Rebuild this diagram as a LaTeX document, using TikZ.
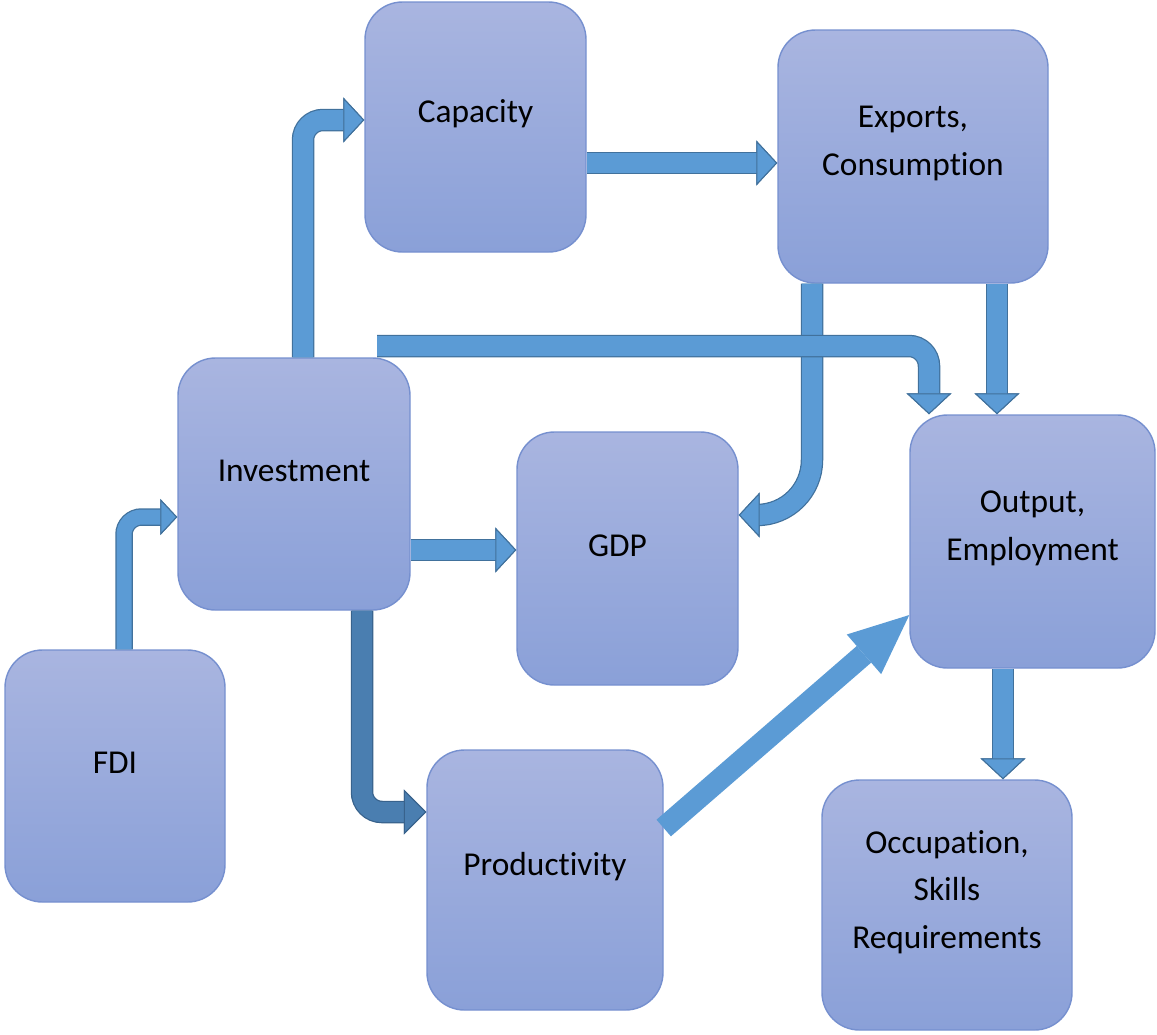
\documentclass[tikz,border=0pt]{standalone}
\usepackage{fontspec}
\setmainfont{Carlito}[Ligatures=NoCommon]
\usetikzlibrary{arrows.meta}
\definecolor{boxtop}{HTML}{A9B5E0}
\definecolor{boxbottom}{HTML}{8AA0D8}
\definecolor{boxedge}{HTML}{7690CF}
\definecolor{arrowfill}{HTML}{5B9BD5}
\definecolor{arrowedge}{HTML}{41719C}
\definecolor{darkfill}{HTML}{4A7EB0}
\definecolor{darkedge}{HTML}{38628C}
\tikzset{
	% ---- boxes
	box/.style={draw=boxedge, line width=0.8pt, rounded corners=0.75cm,
		top color=boxtop, bottom color=boxbottom, inner sep=0pt},
	boxtext/.style={font=\fontsize{19}{27}\selectfont, align=center, text=black, yshift=2.6mm},
	% ---- block arrows
	flow/.style={line width=0.4cm, draw=arrowfill, rounded corners=0.4cm,
		-{Triangle[width=0.9cm, length=0.42cm, line width=0.6pt, color=arrowedge, fill=arrowfill]},
		preaction={draw=arrowedge, line width=0.45cm,
			-{Triangle[width=0.9cm, length=0.42cm, line width=0.6pt, color=arrowedge, fill=arrowedge]}}},
	thin flow/.style={line width=0.3cm, draw=arrowfill, rounded corners=0.35cm,
		-{Triangle[width=0.72cm, length=0.34cm, line width=0.6pt, color=arrowedge, fill=arrowfill]},
		preaction={draw=arrowedge, line width=0.35cm,
			-{Triangle[width=0.72cm, length=0.34cm, line width=0.6pt, color=arrowedge, fill=arrowedge]}}},
	dark flow/.style={line width=0.4cm, draw=darkfill, rounded corners=0.4cm,
		-{Triangle[width=0.9cm, length=0.45cm, line width=0.6pt, color=darkedge, fill=darkfill]},
		preaction={draw=darkedge, line width=0.45cm,
			-{Triangle[width=0.9cm, length=0.45cm, line width=0.6pt, color=darkedge, fill=darkedge]}}},
	big flow/.style={line width=0.44cm, draw=arrowfill,
		-{Triangle[width=1.05cm, length=1.2cm, line width=0pt, color=arrowfill, fill=arrowfill]}},
}

\begin{document}
\begin{tikzpicture}[x=0.2mm, y=-0.2mm]

% parameters %{{{2

	\def\pxu{0.2mm}

	\useasboundingbox (0,0) rectangle (1157,1034);

% boxes %{{{2

	\node[box, minimum width=221*\pxu, minimum height=250*\pxu,
		label={[boxtext, name=capT]center:Capacity}] (cap) at (475.5,127) {};
	\node[box, minimum width=270*\pxu, minimum height=253*\pxu,
		label={[boxtext, name=expT]center:Exports,\\Consumption}] (exp) at (913,156.5) {};
	\node[box, minimum width=232*\pxu, minimum height=252*\pxu,
		label={[boxtext, name=invT]center:Investment}] (inv) at (294,484) {};
	\node[box, minimum width=221*\pxu, minimum height=253*\pxu,
		label={[boxtext, name=gdpT, xshift=-2mm]center:GDP}] (gdp) at (627.5,558.5) {};
	\node[box, minimum width=245*\pxu, minimum height=253*\pxu,
		label={[boxtext, name=outT]center:Output,\\Employment}] (out) at (1032.5,541.5) {};
	\node[box, minimum width=220*\pxu, minimum height=252*\pxu,
		label={[boxtext, name=fdiT]center:FDI}] (fdi) at (115,776) {};
	\node[box, minimum width=236*\pxu, minimum height=260*\pxu,
		label={[boxtext, name=proT]center:Productivity}] (pro) at (545,880) {};
	\node[box, minimum width=250*\pxu, minimum height=250*\pxu,
		label={[boxtext, name=occT]center:Occupation,\\Skills\\Requirements}] (occ) at (947,905) {};

% bend points %{{{2

	\coordinate (fi) at (124,517);
	\coordinate (ic) at (303,120);
	\coordinate (ce) at (680,163);
	\coordinate (io) at (929,346);
	\coordinate (ios) at (377,346);
	\coordinate (eo) at (997,350);
	\coordinate (eg) at (812,515);
	\coordinate (ig) at (460,550);
	\coordinate (ip) at (362,812);
	\coordinate (po) at (666,828);
	\coordinate (pe) at (909,615);
	\coordinate (oo) at (1003,700);

% arrows %{{{2

	\draw[thin flow] (fdi.north -| fi) |- (inv.west |- fi);
	\draw[flow] (inv.north -| ic) |- (cap.west |- ic);
	\draw[flow] (cap.east |- ce) -- (exp.west |- ce);
	\draw[flow] (exp.south -| eo) -- (out.north -| eo);
	\draw[flow, rounded corners=1.1cm] (exp.south -| eg) |- (gdp.east |- eg);
	\draw[flow] (ios) -| (out.north -| io);
	\draw[flow] (inv.east |- ig) -- (gdp.west |- ig);
	\draw[dark flow] (inv.south -| ip) |- (pro.west |- ip);
	\draw[big flow] (pro.east |- po) -- (out.west |- pe);
	\draw[flow] (out.south -| oo) -- (occ.north -| oo);

\end{tikzpicture}
\end{document}
